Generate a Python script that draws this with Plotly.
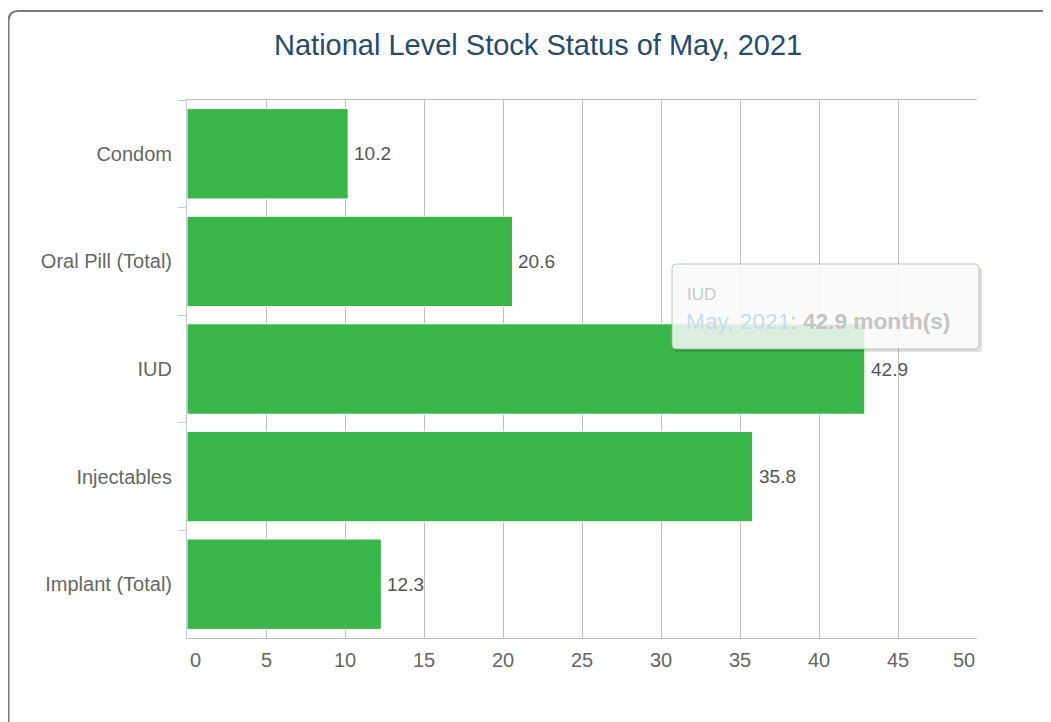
import plotly.graph_objects as go

# ---- data ----
categories = ["Condom", "Oral Pill (Total)", "IUD", "Injectables", "Implant (Total)"]
months_of_stock = [10.2, 20.6, 42.9, 35.8, 12.3]
period_label = "May, 2021"
title_text = "National Level Stock Status of May, 2021"
tooltip_category = "IUD"
x_ticks = [0, 5, 10, 15, 20, 25, 30, 35, 40, 45, 50]

# ---- layout geometry (page pixels; page body has an 8px margin) ----
W, H = 1051, 722
OFF = 8
PL, PR, PT, PB = 187, 977, 100, 638  # plot area in page pixels


def px(x):
    return (x - PL) / (PR - PL)


def py(y):
    return (PB - y) / (PB - PT)


def rounded_path(x0, y0, x1, y1, r):
    pts = [
        f"M {px(x0 + r)} {py(y0)}",
        f"L {px(x1 - r)} {py(y0)}",
        f"Q {px(x1)} {py(y0)} {px(x1)} {py(y0 + r)}",
        f"L {px(x1)} {py(y1 - r)}",
        f"Q {px(x1)} {py(y1)} {px(x1 - r)} {py(y1)}",
        f"L {px(x0 + r)} {py(y1)}",
        f"Q {px(x0)} {py(y1)} {px(x0)} {py(y1 - r)}",
        f"L {px(x0)} {py(y0 + r)}",
        f"Q {px(x0)} {py(y0)} {px(x0 + r)} {py(y0)}",
        "Z",
    ]
    return " ".join(pts)


GREEN = "#3AB54A"
LABEL_COLOR = "#666666"
FONT = "Liberation Sans, Arial, sans-serif"
LABEL_SIZE = 20

fig = go.Figure()
fig.add_trace(
    go.Bar(
        x=months_of_stock,
        y=categories,
        orientation="h",
        marker=dict(color=GREEN, line=dict(color="#ffffff", width=1)),
        width=0.84,
        hoverinfo="skip",
    )
)

annotations = []
# data labels
for c, v in zip(categories, months_of_stock):
    annotations.append(
        dict(
            x=v, y=c, xref="x", yref="y", text=f"{v:.1f}", showarrow=False,
            xanchor="left", yanchor="middle", xshift=4,
            font=dict(family=FONT, size=19, color="#555555"),
        )
    )

# x-axis tick labels (first/last kept inside the plot width, like the original)
for i, t in enumerate(x_ticks):
    if i == 0:
        anchor, shift = "left", 1
    elif i == len(x_ticks) - 1:
        anchor, shift = "right", 0
    else:
        anchor, shift = "center", 0
    annotations.append(
        dict(
            x=t, y=0, xref="x", yref="paper", text=str(t), showarrow=False,
            xanchor=anchor, yanchor="middle", xshift=shift, yshift=-(660 - PB),
            font=dict(family=FONT, size=LABEL_SIZE, color=LABEL_COLOR),
        )
    )

# title
annotations.append(
    dict(
        x=px(538), y=py(45), xref="paper", yref="paper", text=title_text,
        showarrow=False, xanchor="center", yanchor="middle",
        font=dict(family=FONT, size=29, color="#274b6d"),
    )
)

# tooltip
tip_idx = categories.index(tooltip_category)
tip_val = months_of_stock[tip_idx]
annotations.append(
    dict(
        x=px(685), y=py(294), xref="paper", yref="paper", text=tooltip_category,
        showarrow=False, xanchor="left", yanchor="middle",
        font=dict(family=FONT, size=17, color="#c9c9c9"),
    )
)
annotations.append(
    dict(
        x=px(684), y=py(321), xref="paper", yref="paper",
        text=f"<span style='color:#c7daef'>{period_label}</span>: <b>{tip_val:.1f} month(s)</b>",
        showarrow=False, xanchor="left", yanchor="middle",
        font=dict(family=FONT, size=22.7, color="#c4c4c4"),
    )
)

shapes = [
    # chart outer border (extends beyond window to the right/bottom)
    dict(
        type="path", xref="paper", yref="paper", layer="above",
        path=(
            f"M {px(8.5)} {py(760)} L {px(8.5)} {py(21)} "
            f"Q {px(8.5)} {py(11)} {px(18.5)} {py(11)} L {px(1080)} {py(11)}"
        ),
        line=dict(color="#7a7a7a", width=2),
    ),
    # tooltip shadow
    dict(
        type="path", xref="paper", yref="paper", layer="above",
        path=rounded_path(674, 267, 982, 352, 4),
        fillcolor="rgba(0,0,0,0.12)", line=dict(width=0),
    ),
    # tooltip box
    dict(
        type="path", xref="paper", yref="paper", layer="above",
        path=rounded_path(672, 264, 979, 349, 4),
        fillcolor="rgba(255,255,255,0.83)",
        line=dict(color="rgba(150,185,150,0.75)", width=1),
    ),
]

fig.update_layout(
    width=W,
    height=H,
    margin=dict(l=PL - OFF, r=W - (PR - OFF), t=PT - OFF, b=H - (PB - OFF), pad=0),
    paper_bgcolor="white",
    plot_bgcolor="white",
    showlegend=False,
    hovermode=False,
    bargap=0.16,
    font=dict(family=FONT, size=LABEL_SIZE, color=LABEL_COLOR),
    xaxis=dict(
        range=[0, 50],
        tickvals=x_ticks,
        showticklabels=False,
        showgrid=True,
        gridcolor="#c0c0c0",
        gridwidth=1,
        showline=True,
        linecolor="#c0c0c0",
        linewidth=1,
        mirror=True,
        ticks="",
        zeroline=False,
        fixedrange=True,
    ),
    yaxis=dict(
        categoryorder="array",
        categoryarray=categories,
        autorange="reversed",
        showgrid=False,
        showline=True,
        linecolor="#C0D0E0",
        linewidth=1,
        ticks="outside",
        tickson="boundaries",
        ticklen=8,
        tickcolor="#C0D0E0",
        tickwidth=1,
        zeroline=False,
        tickfont=dict(family=FONT, size=LABEL_SIZE, color=LABEL_COLOR),
        ticklabelstandoff=10,
        fixedrange=True,
    ),
    annotations=annotations,
    shapes=shapes,
)

fig.write_html("out.html")
